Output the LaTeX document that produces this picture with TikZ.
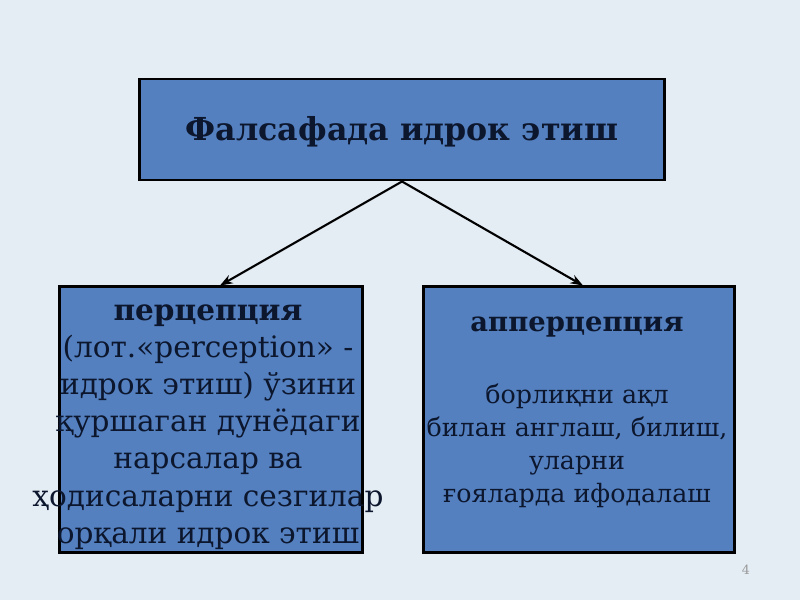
\documentclass[tikz,border=0pt]{standalone}
\usepackage{fontspec}
\setmainfont{DejaVu Serif}
\usetikzlibrary{arrows.meta, positioning}
\definecolor{slidebg}{RGB}{228,236,244}
\definecolor{boxblue}{RGB}{84,128,192}
\definecolor{textnavy}{RGB}{12,22,45}

\begin{document}
\begin{tikzpicture}[x=0.025cm, y=-0.025cm,
    concept_box/.style={draw=black, line width=2.1pt, fill=boxblue, inner sep=0pt},
    box_text/.style={align=center, text=textnavy, inner sep=0pt},
    arrow/.style={-{Stealth[length=9pt, width=6.5pt]}, line width=1.5pt, draw=black}
]

    % Slide background
    \fill[slidebg] (0,0) rectangle (800,600);

    % Title box
    \node[concept_box, minimum width=13.1cm, minimum height=2.525cm] (title) at (402,129.5) {};
    \node[box_text, font=\fontsize{22.5}{27}\selectfont\bfseries] (title_text) at ([yshift=-0.05cm]title.center) {Фалсафада идрок этиш};

    % Perception box
    \node[concept_box, minimum width=7.55cm, minimum height=6.625cm] (perc) at (211,419.5) {};
    \node[box_text, font=\fontsize{21}{26.4}\selectfont] (perc_text) at (208,427) {%
        \textbf{перцепция}\\
        (лот.«perception» -\\
        идрок этиш) ўзини\\
        қуршаган дунёдаги\\
        нарсалар ва\\
        ҳодисаларни сезгилар\\
        орқали идрок этиш};

    % Apperception box
    \node[concept_box, minimum width=7.75cm, minimum height=6.625cm] (apperc) at (579,419.5) {};
    \node[box_text, font=\fontsize{18}{23.4}\selectfont] (apperc_text) at (577,412) {%
        \textbf{\fontsize{19.5}{23.4}\selectfont апперцепция}\\[28pt]
        борлиқни ақл\\
        билан англаш, билиш,\\
        уларни\\
        ғояларда ифодалаш};

    % Arrows from title to both boxes
    \draw[arrow] (title.south) -- ([xshift=0.225cm]perc.north);
    \draw[arrow] (title.south) -- ([xshift=0.1cm]apperc.north);

    % Page number
    \node[text=black!40, font=\fontsize{9}{11}\selectfont] (page_num) at (746,570) {4};

\end{tikzpicture}
\end{document}
